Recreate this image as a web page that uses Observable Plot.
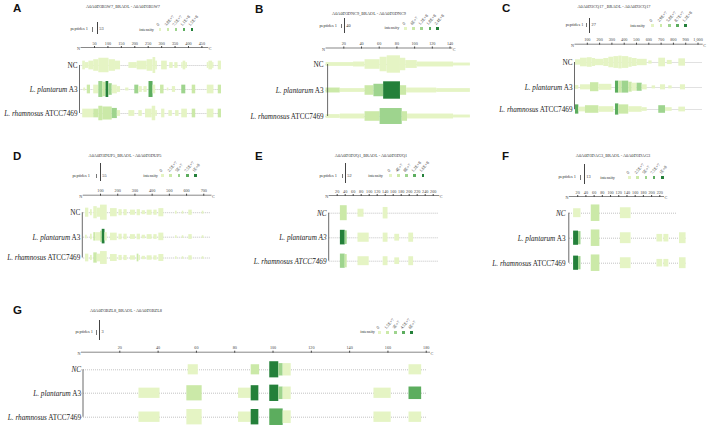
<!DOCTYPE html>
<html><head><meta charset="utf-8">
<script src="https://cdn.jsdelivr.net/npm/d3@7"></script>
<script src="https://cdn.jsdelivr.net/npm/@observablehq/plot@0.6"></script>
<style>
body{margin:0;background:#fff;}
#page{position:relative;width:708px;height:429px;overflow:hidden;font-family:'Liberation Serif','Times New Roman',serif;background:#fff;}
.abs{position:absolute;white-space:nowrap;}
.letter{font-family:'Liberation Sans',Arial,sans-serif;font-weight:bold;font-size:11.5px;line-height:11.5px;color:#111;}
.tiny{font-size:4.3px;line-height:5px;color:#333;}
.panel{position:absolute;}
</style></head><body><div id="page"></div>
<script>
// ---------------- DATA ----------------
const rowNames = ["NC", "L. plantarum A3", "L. rhamnosus ATCC7469"];
const intensityLevels = [0, 1, 2, 3, 4];

// Panel A
const titleA = "A0A0D3B5W7_BRAOL - A0A0D3B5W7";
const peptidesA = "53";
const intensityA = ["0", "3.8E+7", "7.5E+7", "1.1E+8", "1.5E+8"];
const ticksA = [50, 100, 150, 200, 250, 300, 350, 400, 450];
const lengthA = 472;
const lineEndA = [523, 523, 523];
const A_NC = [[6,16,3,0],[16,29,2,0],[29,47,3,0],[47,66,4,0],[66,104,5,0],[104,128,4,0],[128,147,3,0],
  [178,209,2,0],[209,246,3,0],[246,268,4,0],[268,278,5.5,0],[278,284,3,0],
  [300,321,3,0],[330,343,2,0],[349,361,2,0],[375,380,2,0],[380,390,3,0],[390,396,2,0],
  [470,476,2,0],[476,490,3,0],[490,495,2,0],[511,523,3,0]];
const A_A3 = [[10,17,1,0],[23,35,3,1],[47,66,3,0],[66,81,5.5,2],[81,93,5,1],[93,103,5.5,4],[103,116,4,2],[116,135,3,0],[135,147,2,0],
  [166,178,1,0],[200,215,3,2],[215,228,2,0],[234,246,2,0],[253,268,5.5,3],[268,278,3,0],
  [296,309,3,1],[321,327,1,0],[340,352,2,0],[375,390,3,2],[414,427,3,1],[470,495,3,0],[511,523,3,1]];
const A_ATCC = [[6,47,3,0],[47,66,3,1],[66,81,5,1],[81,116,4.5,1],[116,135,3.5,2],[135,147,2,0],
  [178,200,2,0],[215,228,2,0],[240,265,3,0],[265,278,5,0],[278,284,2,0],
  [300,312,3,0],[327,340,2,0],[352,365,2,0],[375,396,3,0],[414,427,3,1],[470,495,3,0],[511,523,3,1]];

// Panel B
const titleB = "A0A0D3DNC9_BRAOL - A0A0D3DNC9";
const peptidesB = "40";
const intensityB = ["0", "6E+7", "1.2E+8", "1.8E+8", "2.4E+8"];
const ticksB = [20, 40, 60, 80, 100, 120, 140];
const lengthB = 142;
const lineEndB = [163, 163, 163];
const B_NC = [[0,31,1.3,0],[31,44,1.7,0],[44,61,3.3,0],[61,69,5,0],[69,84,6,0],[84,90,4.3,0],[90,103,2.7,0],[103,144,1.7,0],[144,163,1,0]];
const B_A3 = [[0,16,1.7,1],[16,44,1.3,0],[44,54,3.3,1],[54,65,4.3,2],[65,84,6,4],[84,91,3.3,1],[91,125,1.7,0],[125,163,1.3,0]];
const B_ATCC = [[0,16,1.3,0],[16,44,1.7,0],[44,61,3.3,1],[61,86,5.5,2],[86,92,3.3,1],[92,144,1.7,0],[144,163,1,0]];

// Panel C
const titleC = "A0A0D3CQ17 _BRAOL - A0A0D3CQ17";
const peptidesC = "27";
const intensityC = ["0", "2.9E+7", "5.8E+7", "8.7E+7", "1.2E+8"];
const ticksC = [100, 200, 300, 400, 500, 600, 700, 800, 900, 1000];
const lengthC = 1034;
const lineEndC = [1034, 1034, 1034];
const C_NC = [[4,45,1.7,0],[45,100,2.7,0],[100,140,3,0],[140,167,2.5,0],[167,234,2,0],[234,275,2.5,0],[275,316,3.3,0],
  [316,356,3.7,0],[356,383,4,0],[383,437,3.7,0],[437,465,3,0],[465,505,2.5,0],[505,587,2,0],[600,627,1,0],
  [681,736,2.7,0],[750,790,1.3,0],[844,898,2.3,0]];
const C_A3 = [[4,31,1.3,0],[45,126,1.7,0],[126,194,3,1],[194,300,2,0],[329,356,4,3],[356,383,4,1],[383,437,4,2],
  [437,465,3.3,1],[465,505,2.7,0],[505,546,2.7,2],[546,587,1.7,0],[627,655,1,0],[695,736,1.7,0],[762,790,1,0],[857,898,1.7,0]];
const C_ATCC = [[4,31,3.3,3],[31,85,1.7,0],[85,194,2.7,1],[194,316,2,0],[329,356,4,3],[356,437,3.3,1],[437,546,2,0],
  [546,587,1.3,0],[681,736,2.7,2],[736,790,1.3,0],[844,898,1.7,0]];

// Panel D
const titleD = "A0A0D3DUP5_BRAOL - A0A0D3DUP5";
const peptidesD = "55";
const intensityD = ["0", "2.5E+7", "5E+7", "7.5E+7", "1E+8"];
const ticksD = [100, 200, 300, 400, 500, 600, 700];
const lengthD = 742;
const lineEndD = [740, 740, 740];
const D_NC = [[13,32,3,0],[42,52,2,0],[61,81,4,0],[81,100,3,0],[100,139,5,0],[158,197,2.7,0],[207,226,2,0],[236,255,2,0],
  [274,303,1.7,0],[313,332,2,0],[342,361,1.3,0],[371,400,1.7,0],[410,429,1.7,0],[439,468,2.7,0],
  [536,545,1,0],[575,584,1,0],[613,633,1.7,0],[691,701,1,0]];
const D_A3 = [[13,23,1.3,0],[42,52,2,0],[61,72,3,1],[72,100,3,0],[100,110,4,1],[110,126,5.2,4],[126,139,3,0],[158,197,2.7,0],
  [207,226,2,0],[236,255,2,0],[274,303,1.7,0],[313,332,2,0],[342,361,1.3,0],[371,400,1.7,0],[410,429,1.7,0],[439,468,2.7,0],
  [536,545,1,0],[575,584,1,0],[613,633,1.7,0],[691,701,1,0]];
const D_ATCC = [[13,32,3,0],[42,52,2,0],[61,81,4,1],[81,100,3,0],[100,139,5,0],[158,197,2.7,0],[207,226,2,0],[236,255,2,0],
  [274,303,1.7,0],[313,323,3,1],[323,332,2,0],[342,361,1.3,0],[371,400,1.7,0],[410,429,1.7,0],[439,468,2.7,0],
  [536,545,1,0],[575,584,1,0],[613,633,1.7,0],[691,701,1,0]];

// Panel E
const titleE = "A0A0D3D2Q1_BRAOL - A0A0D3D2Q1";
const peptidesE = "52";
const intensityE = ["0", "4E+7", "8E+7", "1.2E+8", "1.6E+8"];
const ticksE = [20, 40, 60, 80, 100, 120, 140, 160, 180, 200, 220, 240, 260];
const lengthE = 274;
const lineEndE = [274, 274, 274];
const E_NC = [[28,45,4.3,1],[72,87,2.3,0],[135,147,3.3,0]];
const E_A3 = [[28,40,4.3,4],[40,45,4,2],[72,100,2.7,0],[135,147,2.7,0],[164,176,2,0],[199,211,2.7,0]];
const E_ATCC = [[28,40,4.3,2],[40,45,4,1],[72,100,2.7,0],[135,147,2.7,0],[164,176,2,0],[199,211,2.7,0]];

// Panel F
const titleF = "A0A0D3DAG3_BRAOL - A0A0D3DAG3";
const peptidesF = "13";
const intensityF = ["0", "2.5E+7", "5E+7", "7.5E+7", "1E+8"];
const ticksF = [20, 40, 60, 80, 100, 120, 140, 160, 180, 200, 220];
const lengthF = 229;
const lineEndF = [262, 284, 284];
const F_NC = [[10,28,2.7,0],[53,74,5,1],[124,150,3.3,0]];
const F_A3 = [[10,22,4.3,4],[22,28,4,2],[53,74,5,1],[124,150,3.3,0],[213,227,2.3,0],[230,242,2.3,0],[268,284,3.3,0]];
const F_ATCC = [[10,22,4.3,4],[22,28,4,2],[53,74,5,1],[124,150,3.3,0],[213,227,2.3,0],[230,242,2.3,0],[268,284,3.3,0]];

// Panel G
const titleG = "A0A0D3BZL8_BRAOL - A0A0D3BZL8";
const peptidesG = "3";
const intensityG = ["0", "1.5E+7", "3E+7", "4.5E+7", "6E+7"];
const ticksG = [20, 40, 60, 80, 100, 120, 140, 160, 180];
const lengthG = 181.7;
const lineEndG = [180.5, 180.5, 180.5];
const G_NC = [[55.7,61,2.7,0],[88.6,93,2.7,1],[98.3,103,4.3,4],[103,105.3,3.3,2],[105.3,109.5,3.3,0],[171,177.6,2.7,0]];
const G_A3 = [[30,41,2.7,0],[55,63,4,1],[82,88.6,2.7,0],[88.6,92.6,4,4],[98.3,103,4.3,4],[103,105.3,3.3,2],[105.3,109.5,3.3,0],[152.7,161.7,2.7,0],[171,177.6,3.3,3]];
const G_ATCC = [[30,41,2.7,0],[55,63,4,0],[82,88.6,2.7,0],[88.6,92.6,4,4],[98.3,105.3,4.3,3],[105.3,109.5,3.3,0],[152.7,161.7,2.7,0],[171,177.6,2.7,0]];

// ---------------- STYLE / LAYOUT ----------------
const palette = ["#e5f4c4", "#cbe9a8", "#9ed48e", "#5cad5e", "#24803a"];

const panels = [
  {letter:"A", title:titleA, pep:peptidesA, inten:intensityA, ticks:ticksA, length:lengthA, lineEnd:lineEndA, rows:[A_NC,A_A3,A_ATCC],
   L:{left:0, top:36, width:235, height:90, mL:80.6, mR:27.7, mT:11, rowY:[29,53,77], depthPx:1.45, labelDx:-3.6, bracketDx:-1.6,
      letterXY:[13,3], titleXY:[123,6], pepL:{tr:88,y:28.5,bar:92,lx:97,ly:[22,34]}, intL:{tr:154,y:29,dy:29.5,xs:[160,168,176,184,192]}, label:"A"}},
  {letter:"B", title:titleB, pep:peptidesB, inten:intensityB, ticks:ticksB, length:lengthB, lineEnd:lineEndB, rows:[B_NC,B_A3,B_ATCC],
   L:{left:240, top:36, width:240, height:92, mL:85.6, mR:28.7, mT:11.5, rowY:[28,54,80], depthPx:1.45, labelDx:-2.5, bracketDx:1.5,
      letterXY:[255,3.5], titleXY:[369,13], pepL:{tr:337,y:25,bar:340.7,lx:344,ly:[18.3,33.3]}, intL:{tr:399.3,y:27.3,dy:28.3,xs:[405.7,413.3,421.7,430,437.7]}, label:"A"}},
  {letter:"C", title:titleC, pep:peptidesC, inten:intensityC, ticks:ticksC, length:lengthC, lineEnd:lineEndC, rows:[C_NC,C_A3,C_ATCC],
   L:{left:470, top:32, width:238, height:88, mL:104.5, mR:6.3, mT:11.7, rowY:[30,55,77], depthPx:1.5, labelDx:-2.5, bracketDx:-0.5,
      letterXY:[502,3], titleXY:[614,6], pepL:{tr:583.3,y:24,bar:585.7,lx:589.3,ly:[18.3,33.3]}, intL:{tr:645,y:25,dy:25.7,xs:[652.7,661,669.3,677.3,685.7]}, label:"A"}},
  {letter:"D", title:titleD, pep:peptidesD, inten:intensityD, ticks:ticksD, length:lengthD, lineEnd:lineEndD, rows:[D_NC,D_A3,D_ATCC],
   L:{left:0, top:182, width:235, height:90, mL:82.8, mR:24.5, mT:12.7, rowY:[30.2,54.7,75.5], depthPx:1.4, labelDx:-3, bracketDx:-1,
      letterXY:[13,150.5], titleXY:[125,155], pepL:{tr:90,y:175,bar:96,lx:100,ly:[163,181]}, intL:{tr:158,y:175.5,dy:175.7,xs:[162.7,170.7,179,187.3,195.3]}, label:"A"}},
  {letter:"E", title:titleE, pep:peptidesE, inten:intensityE, ticks:ticksE, length:lengthE, lineEnd:lineEndE, rows:[E_NC,E_A3,E_ATCC],
   L:{left:240, top:183, width:230, height:90, mL:88.7, mR:31.7, mT:12, rowY:[29.7,54.3,77.7], depthPx:1.7, labelDx:-2.7, bracketDx:-0.5,
      letterXY:[255,150.5], titleXY:[371,155], pepL:{tr:337,y:175,bar:341.7,lx:345,ly:[163,183]}, intL:{tr:383,y:175.5,dy:175.7,xs:[390.7,398.7,406.7,414.7,423]}, label:"E"}},
  {letter:"F", title:titleF, pep:peptidesF, inten:intensityF, ticks:ticksF, length:lengthF, lineEnd:lineEndF, rows:[F_NC,F_A3,F_ATCC],
   L:{left:470, top:184, width:238, height:90, mL:99, mR:45, mT:12, rowY:[28.7,53.7,78.7], depthPx:1.65, labelDx:-4, bracketDx:-0.7,
      letterXY:[502,150.5], titleXY:[613,155], pepL:{tr:576,y:176.7,bar:580,lx:584,ly:[164,184]}, intL:{tr:615,y:177.5,dy:177.7,xs:[629.3,637.7,646,654,662.3]}, label:"F"}},
  {letter:"G", title:titleG, pep:peptidesG, inten:intensityG, ticks:ticksG, length:lengthG, lineEnd:lineEndG, rows:[G_NC,G_A3,G_ATCC],
   L:{left:0, top:340, width:470, height:89, mL:81, mR:41, mT:11.7, rowY:[29.3,52.7,76.7], depthPx:1.9, labelDx:-0.5, bracketDx:1.5,
      letterXY:[13,304.5], titleXY:[126,310], pepL:{tr:93,y:331.7,bar:95.5,lx:99.3,ly:[320,340]}, intL:{tr:375,y:331.7,dy:332.3,xs:[379.3,387.7,395.7,403.7,411.7]}, label:"F"}}
];

const page = document.getElementById("page");
const SVGNS = "http://www.w3.org/2000/svg";

function addDiv(cls, text, x, y, css) {
  const d = document.createElement("div");
  d.className = "abs " + (cls || "");
  if (text != null) d.textContent = text;
  d.style.left = x + "px"; d.style.top = y + "px";
  if (css) Object.assign(d.style, css);
  page.appendChild(d);
  return d;
}

function styleLabels(svg, mode) {
  svg.querySelectorAll("text").forEach(t => {
    const s = t.textContent;
    if (!rowNames.includes(s)) return;
    t.textContent = "";
    const parts = s === "NC" ? [[s, mode !== "A"]] : [[s.replace(/ \S+$/, ""), true], [s.slice(s.lastIndexOf(" ")), mode === "E"]];
    parts.forEach(([str, it]) => {
      const ts = document.createElementNS(SVGNS, "tspan");
      ts.textContent = str;
      if (it) ts.setAttribute("font-style", "italic");
      t.appendChild(ts);
    });
  });
}

panels.forEach(p => {
  const L = p.L;
  const segs = [];
  p.rows.forEach((arr, r) => arr.forEach(([s, e, d, lv]) => segs.push({row: r, start: s, end: e, depth: d, level: lv})));
  const pxPerRow = (L.rowY[2] - L.rowY[0]) / 2;
  const unit = L.depthPx / pxPerRow; // one depth unit = depthPx half-height
  const lines = p.lineEnd.map((e, i) => ({row: i, end: e}));
  const chart = Plot.plot({
    width: L.width, height: L.height,
    marginLeft: L.mL, marginRight: L.mR, marginTop: L.mT, marginBottom: 0,
    x: {type: "linear", domain: [0, p.length]},
    y: {type: "linear", domain: [0, 1, 2], range: L.rowY, axis: null},
    color: {type: "ordinal", domain: intensityLevels, range: palette},
    style: {fontFamily: "'Liberation Serif','Times New Roman',serif", fontSize: "4px", overflow: "visible", background: "transparent"},
    marks: [
      Plot.frame({anchor: "top", stroke: "#555", strokeWidth: 0.7}),
      Plot.axisX({ticks: p.ticks, anchor: "top", tickSize: 2, tickPadding: 1, fontSize: 4.2, label: null, color: "#444", tickFormat: d3.format(",")}),
      Plot.text(["N"], {x: 0, frameAnchor: "top", text: d => d, textAnchor: "end", dx: -1, fontSize: 4.2, fill: "#444"}),
      Plot.text(["C"], {x: p.length, frameAnchor: "top", text: d => d, textAnchor: "start", dx: 1, fontSize: 4.2, fill: "#444"}),
      Plot.ruleY(lines, {y: "row", x1: 0, x2: "end", stroke: "#9a9a9a", strokeWidth: 0.6, strokeDasharray: "1,1"}),
      Plot.rect(segs, {x1: "start", x2: "end", y1: d => d.row - d.depth * unit, y2: d => d.row + d.depth * unit, fill: "level"}),
      Plot.ruleX([0], {y1: 0, y2: 2, dx: L.bracketDx, stroke: "#444", strokeWidth: 0.8}),
      Plot.text(rowNames, {x: 0, y: (d, i) => i, text: d => d, textAnchor: "end", dx: L.labelDx, fontSize: 7.2, fill: "#1a1a1a"})
    ]
  });
  chart.classList.add("panel");
  chart.style.left = L.left + "px";
  chart.style.top = L.top + "px";
  styleLabels(chart, L.label);
  page.appendChild(chart);

  // panel letter and title
  addDiv("letter", p.letter, L.letterXY[0], L.letterXY[1]);
  addDiv("tiny", p.title, L.titleXY[0], L.titleXY[1] - 2.5, {transform: "translateX(-50%)"});

  // peptides legend
  addDiv("tiny", "peptides 1", L.pepL.tr, L.pepL.y - 2.5, {transform: "translateX(-100%)"});
  addDiv("", null, L.pepL.bar, L.pepL.y - 1.5, {width: "1.2px", height: "4.5px", background: "#777"});
  addDiv("", null, L.pepL.lx, L.pepL.ly[0], {width: "0.7px", height: (L.pepL.ly[1] - L.pepL.ly[0]) + "px", background: "#444"});
  addDiv("tiny", p.pep, L.pepL.lx + 2.3, L.pepL.y - 2.5);

  // intensity legend
  addDiv("tiny", "intensity", L.intL.tr, L.intL.y - 2.5, {transform: "translateX(-100%)"});
  L.intL.xs.forEach((x, i) => {
    addDiv("", null, x - 1.3, L.intL.dy - 1.3, {width: "2.6px", height: "2.6px", background: palette[i]});
    addDiv("tiny", p.inten[i], x - 0.8, L.intL.dy - 7.5, {transformOrigin: "0 100%", transform: "rotate(-50deg)"});
  });
});
</script></body></html>
